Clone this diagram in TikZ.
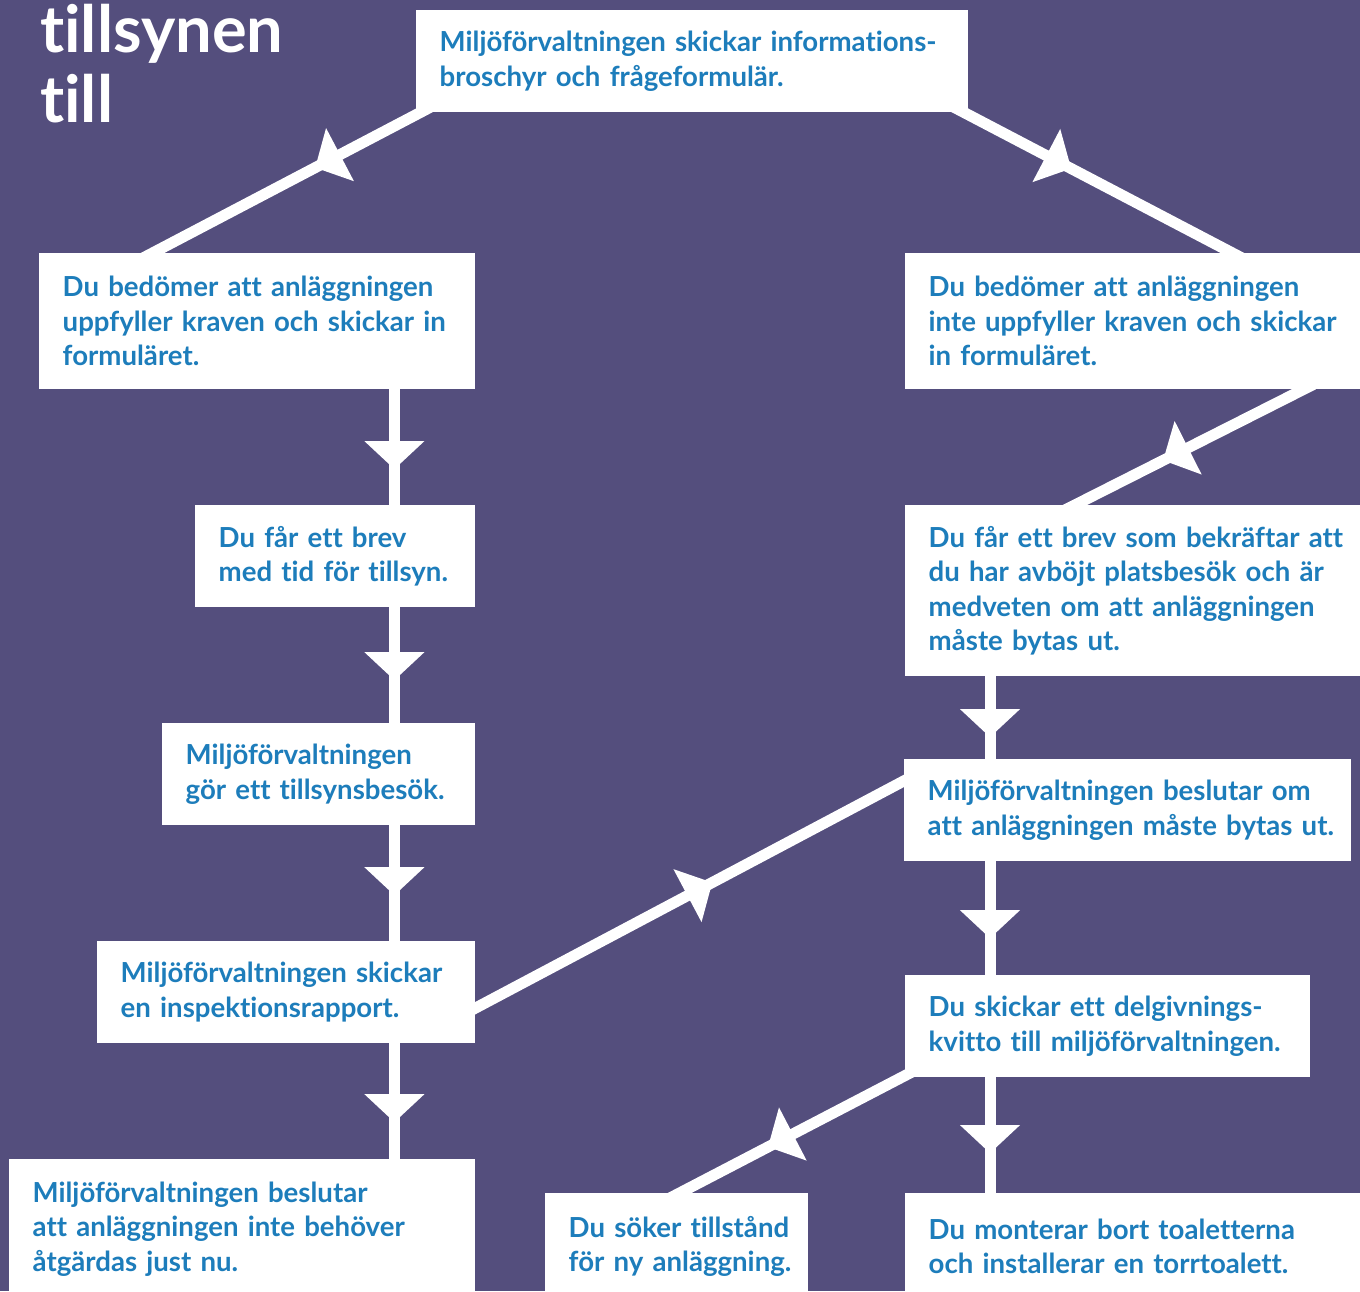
\documentclass[tikz,border=0pt]{standalone}
\usepackage{fontspec}
\setmainfont{Lato}[Ligatures=NoCommon]
\usetikzlibrary{arrows.meta,decorations.markings,calc}
\definecolor{bgpurple}{RGB}{84,78,125}
\definecolor{txtblue}{RGB}{29,125,187}
\pgfdeclarelayer{back}
\pgfdeclarelayer{lines}
\pgfsetlayers{back,lines,main}
\newcommand\bline[1]{\mbox{#1}}
\tikzset{
  box/.style={rectangle, fill=white, anchor=north west, inner xsep=23.5pt, inner ysep=0pt,
    align=left, text=txtblue, font=\bfseries\fontsize{27.6}{34.5}\selectfont},
  bx/.style 2 args={box, text width=#1, minimum height=#2},
  conn/.style={draw=white, line width=11pt},
  midarrow/.style={decoration={markings, mark=at position #1 with
    {\arrow[white]{Triangle[width=60pt,length=28pt,line width=0pt]}}}, postaction=decorate},
  titletext/.style={anchor=base west, inner sep=0pt, text=white, font=\bfseries\fontsize{65}{70}\selectfont}
}
\begin{document}
\begin{tikzpicture}[x=1pt,y=-1pt]
\begin{pgfonlayer}{back}
\fill[bgpurple] (0,0) rectangle (1360,1291);
\end{pgfonlayer}
\useasboundingbox (0,0) rectangle (1360,1291);

\node[titletext] (title1) at (40,52) {tillsynen};
\node[titletext] (title2) at (40,122) {till};

\node[bx={505pt}{102pt}] (top) at (416,10) {\bline{Miljöförvaltningen skickar informations-}\\\bline{broschyr och frågeformulär.}};
\node[bx={389pt}{136pt}] (lA) at (39,253) {\bline{Du bedömer att anläggningen}\\\bline{uppfyller kraven och skickar in}\\\bline{formuläret.}};
\node[bx={408pt}{136pt}] (rA) at (905,253) {\bline{Du bedömer att anläggningen}\\\bline{inte uppfyller kraven och skickar}\\\bline{in formuläret.}};
\node[bx={233pt}{102pt}] (lB) at (195,505) {\bline{Du får ett brev}\\\bline{med tid för tillsyn.}};
\node[bx={408pt}{171pt}] (rB) at (905,505) {\bline{Du får ett brev som bekräftar att}\\\bline{du har avböjt platsbesök och är}\\\bline{medveten om att anläggningen}\\\bline{måste bytas ut.}};
\node[bx={266pt}{102pt}] (lC) at (162,723) {\bline{Miljöförvaltningen}\\\bline{gör ett tillsynsbesök.}};
\node[bx={400pt}{102pt}] (rC) at (904,759) {\bline{Miljöförvaltningen beslutar om}\\\bline{att anläggningen måste bytas ut.}};
\node[bx={331pt}{102pt}] (lD) at (97,941) {\bline{Miljöförvaltningen skickar}\\\bline{en inspektionsrapport.}};
\node[bx={358pt}{102pt}] (rD) at (905,975) {\bline{Du skickar ett delgivnings-}\\\bline{kvitto till miljöförvaltningen.}};
\node[bx={419pt}{140pt}] (bL) at (9,1159) {\bline{Miljöförvaltningen beslutar}\\\bline{att anläggningen inte behöver}\\\bline{åtgärdas just nu.}};
\node[bx={216pt}{106pt}] (bM) at (545,1193) {\bline{Du söker tillstånd}\\\bline{för ny anläggning.}};
\node[bx={408pt}{106pt}] (bR) at (905,1193) {\bline{Du monterar bort toaletterna}\\\bline{och installerar en torrtoalett.}};

\begin{pgfonlayer}{lines}
\draw[conn, midarrow=0.40] ($(top.south west)+(14,-5)$) -- ($(lA.north west)+(104,5)$);
\draw[conn, midarrow=0.41] ($(top.south east)+(-16,-6)$) -- ($(rA.north west)+(337,5)$);
\draw[conn, midarrow=0.605] ($(rA.south east)+(-47,-5)$) -- ($(rB.north west)+(160,5)$);
\draw[conn, midarrow=0.549] ($(lD.south east)+(-10,-30)$) -- ($(rC.north west)+(11,16)$);
\draw[conn, midarrow=0.60] ($(rD.south west)+(10,-7)$) -- ($(bM.north west)+(125,5)$);
\draw[conn, midarrow=0.664] ($(lA.south east)+(-81,-9)$) -- ($(lB.north east)+(-81,9)$);
\draw[conn, midarrow=0.612] ($(lB.south east)+(-81,-9)$) -- ($(lC.north east)+(-81,9)$);
\draw[conn, midarrow=0.59] ($(lC.south east)+(-81,-9)$) -- ($(lD.north east)+(-81,9)$);
\draw[conn, midarrow=0.657] ($(lD.south east)+(-81,-9)$) -- ($(bL.north east)+(-81,9)$);
\draw[conn, midarrow=0.693] ($(rB.south west)+(85,-9)$) -- ($(rC.north west)+(86,9)$);
\draw[conn, midarrow=0.652] ($(rC.south west)+(86,-9)$) -- ($(rD.north west)+(85,9)$);
\draw[conn, midarrow=0.634] ($(rD.south west)+(85,-9)$) -- ($(bR.north west)+(85,9)$);
\end{pgfonlayer}
\end{tikzpicture}
\end{document}
